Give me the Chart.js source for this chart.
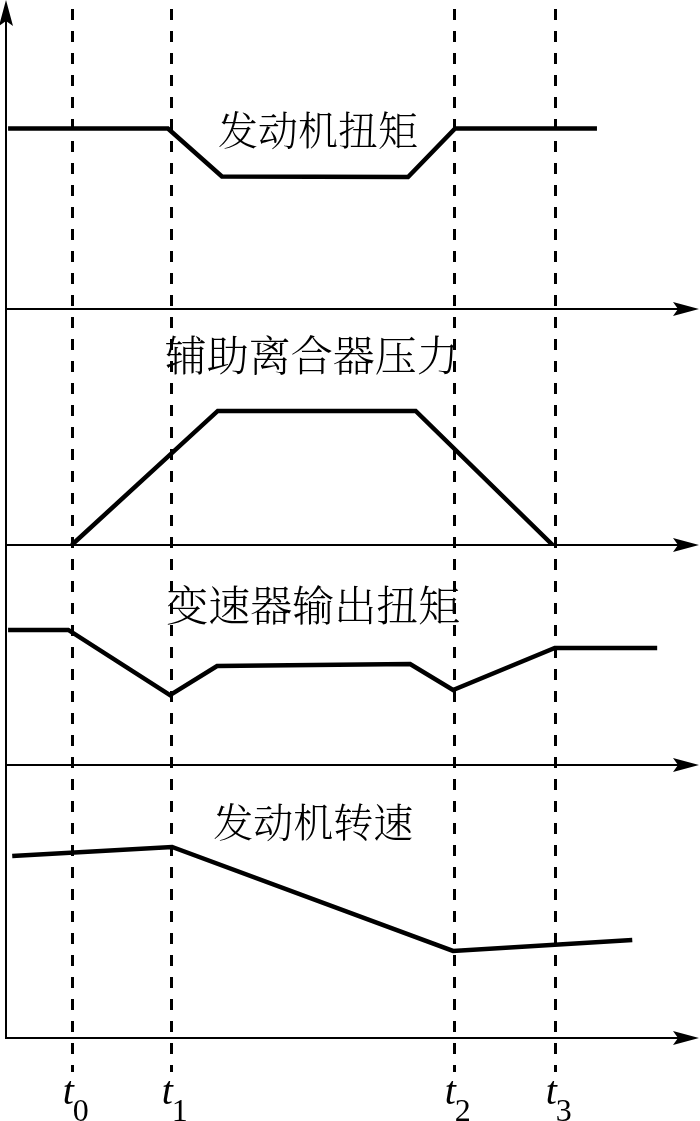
<!DOCTYPE html>
<html>
<head>
<meta charset="utf-8">
<script src="https://cdn.jsdelivr.net/npm/chart.js@4"></script>
<style>
  html, body { margin: 0; padding: 0; background: #fff; }
  #wrap { position: relative; width: 700px; height: 1121px; }
</style>
</head>
<body>
<div id="wrap"><canvas id="shiftChart" width="700" height="1121"></canvas></div>
<script>
// time axis runs 0..100, each panel's value axis runs 0..100
var timeMarks = [9.5, 23.8, 64.7, 79.3];
var timeSubs = ["0", "1", "2", "3"];

var panelNames = ["发动机扭矩", "辅助离合器压力", "变速器输出扭矩", "发动机转速"];

// engine torque
var engTorqueX = [0.3, 23.4, 31.2, 58.1, 64.9, 85.4];
var engTorqueY = [58.4, 58.4, 42.9, 42.7, 58.4, 58.4];
// auxiliary clutch pressure
var clutchX = [9.5, 30.6, 59.2, 79.0];
var clutchY = [0, 56.8, 56.8, 0];
// transmission output torque
var transX = [0.3, 9.0, 23.7, 30.5, 58.4, 64.6, 79.3, 94.1];
var transY = [61.4, 61.4, 31.8, 45.0, 45.9, 34.1, 53.2, 53.2];
// engine speed
var speedX = [0.9, 24.0, 64.6, 90.5];
var speedY = [66.7, 70.0, 31.9, 35.9];

function pts(xs, ys) {
    return xs.map(function (x, i) { return { x: x, y: ys[i] }; });
}

function lineSet(xs, ys, axis) {
    return {
        data: pts(xs, ys),
        yAxisID: axis,
        borderColor: '#000',
        borderWidth: 4.5,
        pointRadius: 0,
        tension: 0,
        fill: false
    };
}

function panelAxis(weight, stackWeight) {
    return {
        type: 'linear',
        position: 'left',
        stack: 'panels',
        stackWeight: stackWeight,
        weight: weight,
        min: 0,
        max: 100,
        ticks: { display: false },
        grid: { display: false },
        border: { display: false },
        afterFit: function (s) { s.width = 0; }
    };
}

function arrow(ctx, x, y, dx, dy) {
    // tip at (x, y), pointing along (dx, dy)
    var len = 26, half = 7, notch = 5;
    var px = -dy, py = dx;
    ctx.beginPath();
    ctx.moveTo(x, y);
    ctx.lineTo(x - dx * len + px * half, y - dy * len + py * half);
    ctx.lineTo(x - dx * (len - notch), y - dy * (len - notch));
    ctx.lineTo(x - dx * len - px * half, y - dy * len - py * half);
    ctx.closePath();
    ctx.fill();
}

// panel labels: [text index, axis, x, y, font size]
var labelSpots = [
    [0, 'yEng', 45.1, 58.0, 40],
    [1, 'yClutch', 44.2, 80.5, 42],
    [2, 'yTrans', 44.4, 72.7, 42],
    [3, 'ySpeed', 44.4, 79.1, 40]
];

var axesPlugin = {
    id: 'shiftAxes',
    beforeDatasetsDraw: function (chart) {
        var ctx = chart.ctx, a = chart.chartArea, xs = chart.scales.x;
        ctx.save();
        ctx.strokeStyle = '#000';
        ctx.fillStyle = '#000';

        // dashed time marks
        ctx.lineWidth = 3;
        ctx.setLineDash([11, 11]);
        timeMarks.forEach(function (t) {
            var px = Math.round(xs.getPixelForValue(t)) + 0.5;
            ctx.beginPath();
            ctx.moveTo(px, a.top + 9);
            ctx.lineTo(px, a.bottom + 34);
            ctx.stroke();
        });
        ctx.setLineDash([]);

        // vertical axis
        ctx.lineWidth = 2;
        ctx.beginPath();
        ctx.moveTo(a.left, a.bottom + 1);
        ctx.lineTo(a.left, a.top + 10);
        ctx.stroke();
        arrow(ctx, a.left, a.top, 0, -1);

        // horizontal axes, one per panel
        ['yEng', 'yClutch', 'yTrans', 'ySpeed'].forEach(function (id) {
            var py = Math.round(chart.scales[id].getPixelForValue(0));
            ctx.beginPath();
            ctx.moveTo(a.left - 1, py);
            ctx.lineTo(a.right - 10, py);
            ctx.stroke();
            arrow(ctx, a.right + 1, py, 1, 0);
        });
        ctx.restore();
    },
    afterDatasetsDraw: function (chart) {
        var ctx = chart.ctx, a = chart.chartArea, xs = chart.scales.x;
        ctx.save();
        ctx.fillStyle = '#000';
        ctx.textAlign = 'center';
        ctx.textBaseline = 'middle';
        labelSpots.forEach(function (s) {
            ctx.font = "300 " + s[4] + "px 'Noto Serif CJK SC', 'Noto Sans CJK SC', sans-serif";
            ctx.fillText(panelNames[s[0]], xs.getPixelForValue(s[2]), chart.scales[s[1]].getPixelForValue(s[3]));
        });

        // t0..t3 under the time axis
        ctx.textBaseline = 'alphabetic';
        ctx.textAlign = 'left';
        timeMarks.forEach(function (t, i) {
            var px = xs.getPixelForValue(t);
            ctx.font = "italic 40px 'Liberation Serif', serif";
            ctx.fillText('t', px - 9, a.bottom + 66);
            ctx.font = "32px 'Liberation Serif', serif";
            ctx.fillText(timeSubs[i], px + 1, a.bottom + 83);
        });
        ctx.restore();
    }
};

const ctx = document.getElementById('shiftChart');
var shiftChart = new Chart(ctx, {
    type: 'line',
    data: {
        datasets: [
            lineSet(engTorqueX, engTorqueY, 'yEng'),
            lineSet(clutchX, clutchY, 'yClutch'),
            lineSet(transX, transY, 'yTrans'),
            lineSet(speedX, speedY, 'ySpeed')
        ]
    },
    options: {
        responsive: false,
        animation: false,
        maintainAspectRatio: false,
        layout: { padding: { left: 6, right: 2, top: 0, bottom: 83 } },
        plugins: { legend: { display: false }, tooltip: { enabled: false } },
        scales: {
            x: { type: 'linear', min: 0, max: 100, display: false },
            yEng: panelAxis(4, 309),
            yClutch: panelAxis(3, 236),
            yTrans: panelAxis(2, 220),
            ySpeed: panelAxis(1, 273)
        }
    },
    plugins: [axesPlugin]
});
</script>
</body>
</html>
